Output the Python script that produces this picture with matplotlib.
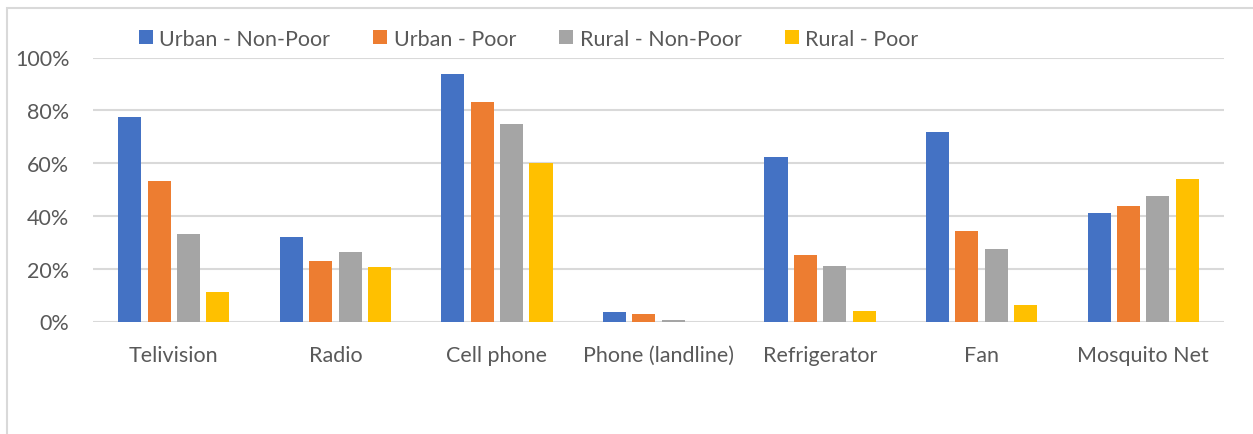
import numpy as np
import matplotlib.pyplot as plt
from matplotlib.patches import Rectangle
from matplotlib.ticker import PercentFormatter

# 値
categories = ["Telivision", "Radio", "Cell phone", "Phone (landline)",
              "Refrigerator", "Fan", "Mosquito Net"]
series_names = ["Urban - Non-Poor", "Urban - Poor", "Rural - Non-Poor", "Rural - Poor"]
urban_nonpoor = [77.4, 31.9, 93.9, 3.5, 62.4, 71.6, 41.2]
urban_poor = [53.1, 23.1, 83.1, 2.9, 25.2, 34.2, 43.6]
rural_nonpoor = [33.0, 26.4, 74.7, 0.6, 20.9, 27.5, 47.4]
rural_poor = [11.0, 20.8, 60.1, 0.0, 4.0, 6.3, 54.0]
colors = ["#4472C4", "#ED7D31", "#A5A5A5", "#FFC000"]

W, H = 1253, 435
TXT = "#595959"
FS = 15.5
plt.rcParams['font.family'] = ['Lato', 'DejaVu Sans']

fig = plt.figure(figsize=(W / 100, H / 100), dpi=100, facecolor='white')
# 外枠
fig.patches.append(Rectangle((7 / W, -0.1), 1.2, 1 - 9 / H + 0.1, transform=fig.transFigure,
                             fill=False, edgecolor='#D9D9D9', lw=1.5))

ax = fig.add_axes([93 / W, (H - 322.5) / H, 1131 / W, 264 / H])
x = np.arange(len(categories))
step = 0.182
bw = 0.143
data = [urban_nonpoor, urban_poor, rural_nonpoor, rural_poor]
for i, (vals, c, name) in enumerate(zip(data, colors, series_names)):
    ax.bar(x + (i - 1.5) * step, vals, width=bw, color=c, label=name, zorder=3)

ax.set_xlim(-0.5, len(categories) - 0.5)
ax.set_ylim(0, 100)
ax.set_yticks(np.arange(0, 101, 20))
ax.yaxis.set_major_formatter(PercentFormatter(decimals=0))
ax.set_xticks(x)
ax.set_xticklabels(categories)
ax.grid(axis='y', color='#D9D9D9', lw=1.5, zorder=0)
for s in ax.spines.values():
    s.set_visible(False)
ax.tick_params(length=0, labelsize=FS, colors=TXT)
ax.tick_params(axis='y', pad=17)
ax.tick_params(axis='x', pad=17)

ax.legend(loc='upper left', bbox_to_anchor=(128 / W, 1 - 19 / H), bbox_transform=fig.transFigure,
          ncol=4, frameon=False, fontsize=FS, handlelength=0.65, handleheight=0.65,
          handletextpad=0.3, columnspacing=2.0, labelcolor=TXT, borderpad=0)

fig.savefig("out.png", dpi=100, facecolor='white')
